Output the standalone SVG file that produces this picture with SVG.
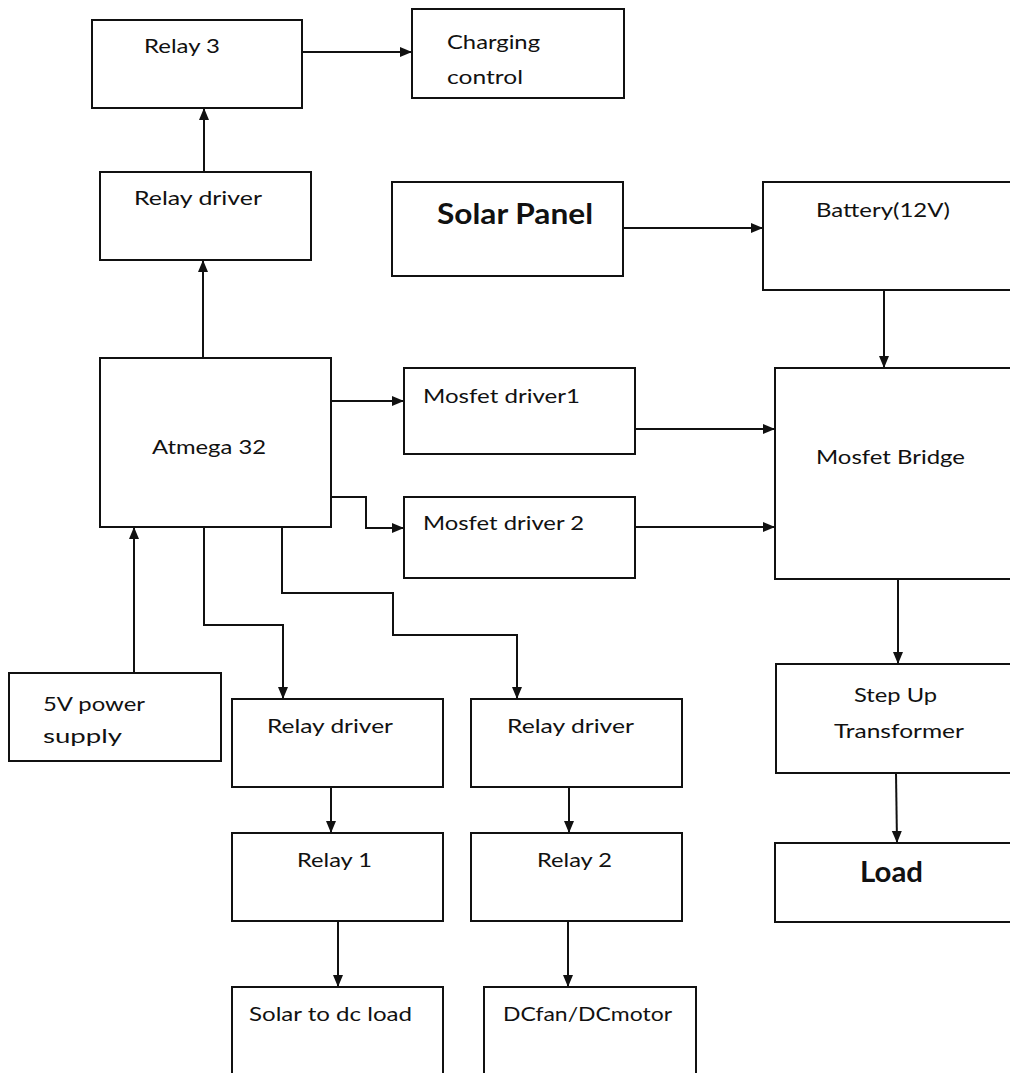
<svg xmlns="http://www.w3.org/2000/svg" width="1010" height="1073" viewBox="0 0 1010 1073">
<style>
.box{fill:#fff;stroke:#111;stroke-width:2}
.t{font-family:Lato,"Open Sans","Liberation Sans",sans-serif;font-size:20px;fill:#111}
.b{font-family:Lato,"Open Sans","Liberation Sans",sans-serif;font-weight:700;fill:#111}
.c{fill:none;stroke:#111;stroke-width:2}
</style>
<defs>
<marker id="ah" viewBox="0 0 12 12" refX="12" refY="6" markerWidth="12" markerHeight="12" markerUnits="userSpaceOnUse" orient="auto">
<path d="M0,1 L12,6 L0,11 z" fill="#111"/>
</marker>
</defs>
<rect width="1010" height="1073" fill="#fff"/>
<g id="connectors">
<path class="c" d="M204,172 V108" marker-end="url(#ah)"/>
<path class="c" d="M203,358 V260" marker-end="url(#ah)"/>
<path class="c" d="M302,52 H412" marker-end="url(#ah)"/>
<path class="c" d="M623,228 H763" marker-end="url(#ah)"/>
<path class="c" d="M884,290 V368" marker-end="url(#ah)"/>
<path class="c" d="M331,401 H404" marker-end="url(#ah)"/>
<path class="c" d="M331,497 H366 V528 H404" marker-end="url(#ah)"/>
<path class="c" d="M635,429 H775" marker-end="url(#ah)"/>
<path class="c" d="M635,527 H775" marker-end="url(#ah)"/>
<path class="c" d="M134,673 V527" marker-end="url(#ah)"/>
<path class="c" d="M204,527 V625 H283 V699" marker-end="url(#ah)"/>
<path class="c" d="M282,527 V593 H393 V635 H517 V699" marker-end="url(#ah)"/>
<path class="c" d="M898,579 V664" marker-end="url(#ah)"/>
<path class="c" d="M896,773 L897,843" marker-end="url(#ah)"/>
<path class="c" d="M331,787 V833" marker-end="url(#ah)"/>
<path class="c" d="M569,787 V833" marker-end="url(#ah)"/>
<path class="c" d="M338,921 V987" marker-end="url(#ah)"/>
<path class="c" d="M568,921 V987" marker-end="url(#ah)"/>
</g>
<g id="relay3"><rect class="box" x="92" y="20" width="210" height="88"/><text class="t" x="144" y="53" textLength="76" lengthAdjust="spacingAndGlyphs">Relay 3</text></g>
<g id="charging"><rect class="box" x="412" y="9" width="212" height="89"/><text class="t" x="447" y="49" textLength="93" lengthAdjust="spacingAndGlyphs">Charging</text><text class="t" x="447" y="84" textLength="76" lengthAdjust="spacingAndGlyphs">control</text></g>
<g id="relaydriver3"><rect class="box" x="100" y="172" width="211" height="88"/><text class="t" x="134" y="205" textLength="128" lengthAdjust="spacingAndGlyphs">Relay driver</text></g>
<g id="solar"><rect class="box" x="392" y="182" width="231" height="94"/><text class="b" x="437" y="224" font-size="28" textLength="156" lengthAdjust="spacingAndGlyphs">Solar Panel</text></g>
<g id="battery"><rect class="box" x="763" y="182" width="252" height="108"/><text class="t" x="816" y="217" textLength="134" lengthAdjust="spacingAndGlyphs">Battery(12V)</text></g>
<g id="atmega"><rect class="box" x="100" y="358" width="231" height="169"/><text class="t" x="152" y="454" textLength="114" lengthAdjust="spacingAndGlyphs">Atmega 32</text></g>
<g id="md1"><rect class="box" x="404" y="368" width="231" height="86"/><text class="t" x="423" y="403" textLength="157" lengthAdjust="spacingAndGlyphs">Mosfet driver1</text></g>
<g id="md2"><rect class="box" x="404" y="497" width="231" height="81"/><text class="t" x="423" y="530" textLength="161" lengthAdjust="spacingAndGlyphs">Mosfet driver 2</text></g>
<g id="bridge"><rect class="box" x="775" y="368" width="240" height="211"/><text class="t" x="816" y="464" textLength="149" lengthAdjust="spacingAndGlyphs">Mosfet Bridge</text></g>
<g id="psu"><rect class="box" x="9" y="673" width="212" height="88"/><text class="t" x="43" y="711" textLength="102" lengthAdjust="spacingAndGlyphs">5V power</text><text class="t" x="43" y="743" textLength="79" lengthAdjust="spacingAndGlyphs">supply</text></g>
<g id="relaydriver1"><rect class="box" x="232" y="699" width="211" height="88"/><text class="t" x="267" y="733" textLength="126" lengthAdjust="spacingAndGlyphs">Relay driver</text></g>
<g id="relaydriver2"><rect class="box" x="471" y="699" width="211" height="88"/><text class="t" x="507" y="733" textLength="127" lengthAdjust="spacingAndGlyphs">Relay driver</text></g>
<g id="stepup"><rect class="box" x="776" y="664" width="240" height="109"/><text class="t" x="854" y="702" textLength="83" lengthAdjust="spacingAndGlyphs">Step Up</text><text class="t" x="834" y="738" textLength="130" lengthAdjust="spacingAndGlyphs">Transformer</text></g>
<g id="relay1"><rect class="box" x="232" y="833" width="211" height="88"/><text class="t" x="297" y="867" textLength="75" lengthAdjust="spacingAndGlyphs">Relay 1</text></g>
<g id="relay2"><rect class="box" x="471" y="833" width="211" height="88"/><text class="t" x="537" y="867" textLength="75" lengthAdjust="spacingAndGlyphs">Relay 2</text></g>
<g id="load"><rect class="box" x="775" y="843" width="240" height="79"/><text class="b" x="860" y="882" font-size="29" textLength="63" lengthAdjust="spacingAndGlyphs">Load</text></g>
<g id="solardc"><rect class="box" x="232" y="987" width="211" height="100"/><text class="t" x="249" y="1021" textLength="163" lengthAdjust="spacingAndGlyphs">Solar to dc load</text></g>
<g id="dcfan"><rect class="box" x="484" y="987" width="212" height="100"/><text class="t" x="503" y="1021" textLength="169" lengthAdjust="spacingAndGlyphs">DCfan/DCmotor</text></g>
</svg>
